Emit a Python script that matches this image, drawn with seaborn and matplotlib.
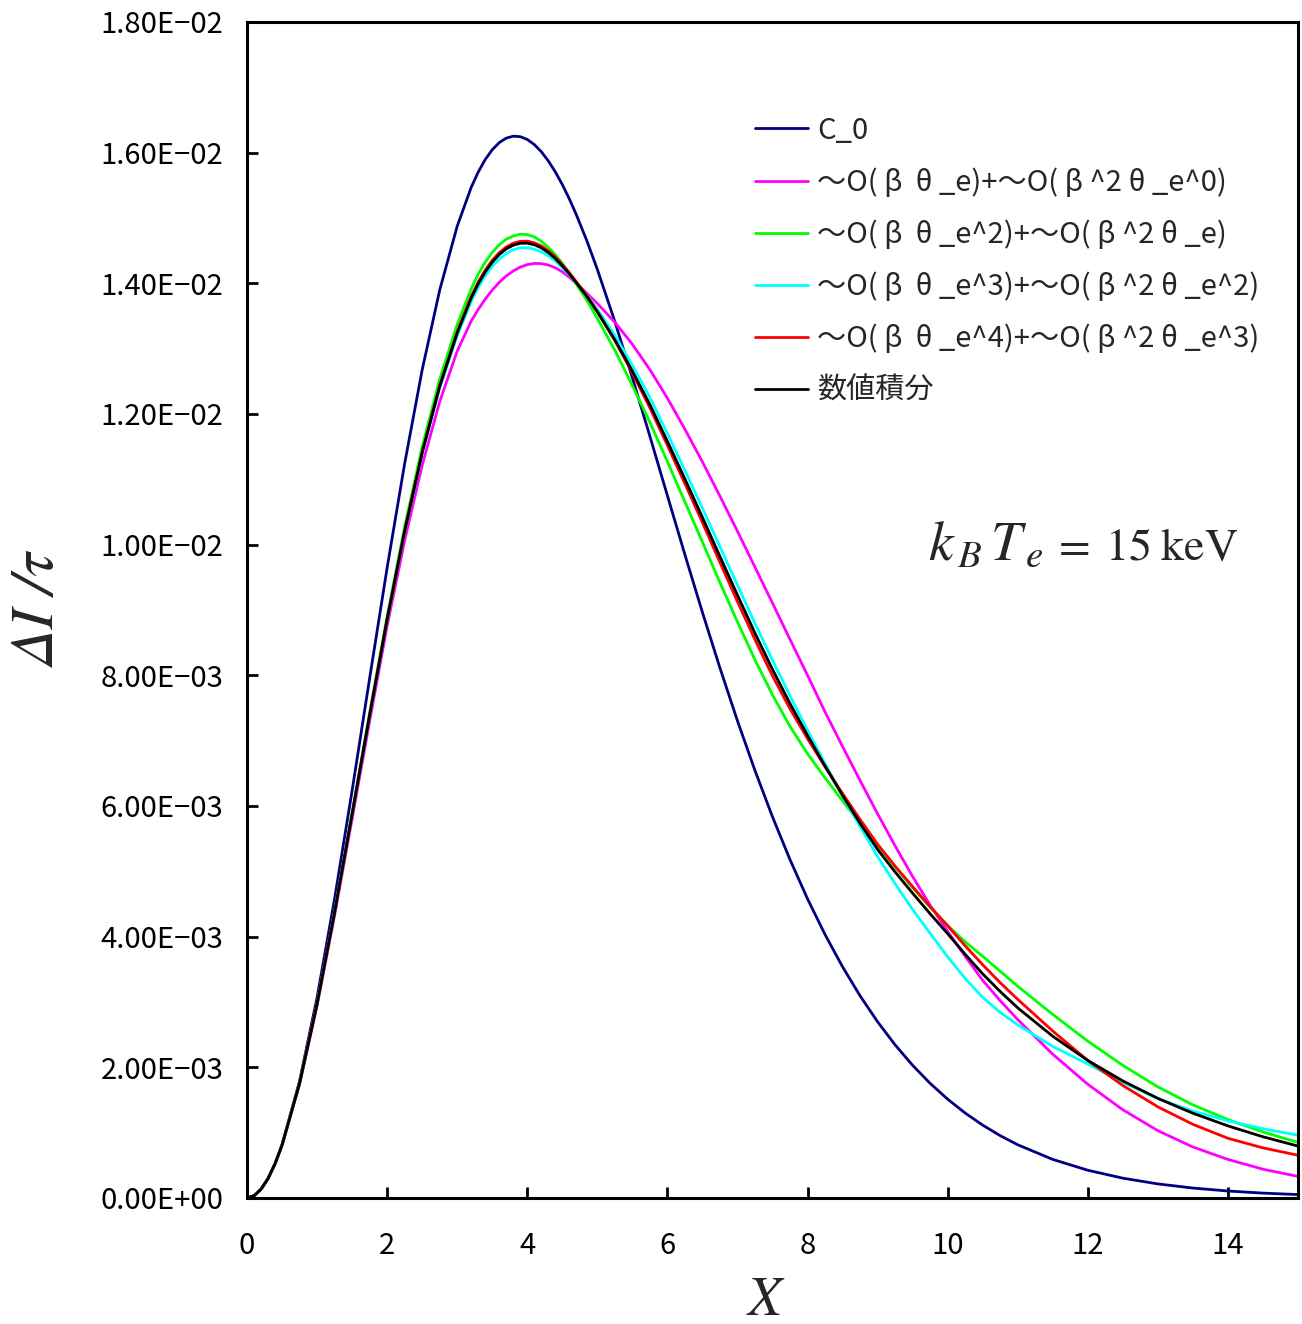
import matplotlib
matplotlib.use("Agg")
import matplotlib.pyplot as plt
import seaborn as sns
from matplotlib.ticker import FixedLocator, FuncFormatter

sns.set_theme(style="white")
plt.rcParams["font.family"] = ["Noto Sans CJK JP", "DejaVu Sans"]
plt.rcParams["mathtext.fontset"] = "stix"

# Frequency variable X = h nu / k T
X = [0, 0.1, 0.2, 0.3, 0.4, 0.5, 0.75, 1.0, 1.25, 1.5, 1.75, 2.0, 2.25, 2.5, 2.75, 3.0,
     3.2, 3.3, 3.4, 3.5, 3.6, 3.7, 3.8, 3.9, 4.0, 4.1, 4.2, 4.3, 4.4, 4.5, 4.6, 4.7,
     4.85, 5.0, 5.25, 5.5, 5.75, 6.0, 6.25, 6.5, 6.75, 7.0, 7.25, 7.5, 7.75, 8.0, 8.25,
     8.5, 8.75, 9.0, 9.25, 9.5, 9.75, 10.0, 10.25, 10.5, 10.75, 11.0, 11.5, 12.0, 12.5,
     13.0, 13.5, 14.0, 14.5, 15.0]

# Delta I / tau for each approximation order
c0 = [0, 0.0000333, 0.0001328, 0.0002975, 0.0005258, 0.0008154, 0.0017881, 0.0030658,
      0.0045768, 0.0062328, 0.0079502, 0.0096447, 0.0112396, 0.0126726, 0.0138946,
      0.0148731, 0.0154685, 0.0157026, 0.0158942, 0.0160442, 0.0161531, 0.0162221,
      0.0162521, 0.0162448, 0.0162017, 0.0161245, 0.0160151, 0.0158750, 0.0157068,
      0.0155123, 0.0152931, 0.0150518, 0.0146531, 0.0142141, 0.0134155, 0.0125548,
      0.0116598, 0.0107509, 0.0098469, 0.0089640, 0.0081131, 0.0073040, 0.0065430,
      0.0058342, 0.0051789, 0.0045788, 0.0040324, 0.0035383, 0.0030941, 0.0026969,
      0.0023436, 0.0020303, 0.0017543, 0.0015120, 0.0012997, 0.0011146, 0.0009537,
      0.0008143, 0.0005900, 0.0004243, 0.0003030, 0.0002150, 0.0001516, 0.0001064,
      0.0000742, 0.0000516]
order1 = [0, 0.0000333, 0.0001323, 0.0002957, 0.0005208, 0.0008045, 0.0017420, 0.0029380,
          0.0043210, 0.0058010, 0.0072960, 0.0087540, 0.0100620, 0.0112120, 0.0121870,
          0.0129620, 0.0134220, 0.0136000, 0.0137580, 0.0138960, 0.0140140, 0.0141120,
          0.0141900, 0.0142480, 0.0142860, 0.0143040, 0.0143020, 0.0142800, 0.0142380,
          0.0141760, 0.0140940, 0.0139990, 0.0138490, 0.0136920, 0.0134040, 0.0130670,
          0.0126790, 0.0122420, 0.0117670, 0.0112670, 0.0107420, 0.0102050, 0.0096550,
          0.0091050, 0.0085500, 0.0080000, 0.0074400, 0.0069100, 0.0063900, 0.0058800,
          0.0053900, 0.0049200, 0.0044800, 0.0040800, 0.0037000, 0.0033300, 0.0030200,
          0.0027300, 0.0022000, 0.0017400, 0.0013500, 0.0010300, 0.0007800, 0.0005900,
          0.0004400, 0.0003300]
order2 = [0, 0.0000333, 0.0001326, 0.0002965, 0.0005225, 0.0008080, 0.0017573, 0.0029777,
          0.0043908, 0.0059013, 0.0074257, 0.0089038, 0.0102756, 0.0114953, 0.0125318,
          0.0133671, 0.0139144, 0.0141412, 0.0143235, 0.0144728, 0.0145897, 0.0146766,
          0.0147235, 0.0147525, 0.0147446, 0.0147111, 0.0146433, 0.0145520, 0.0144394,
          0.0143068, 0.0141557, 0.0139883, 0.0137404, 0.0134623, 0.0129745, 0.0124370,
          0.0118738, 0.0112713, 0.0106548, 0.0100383, 0.0094191, 0.0088185, 0.0082359,
          0.0077010, 0.0072172, 0.0067996, 0.0064300, 0.0060800, 0.0057350, 0.0053950,
          0.0050650, 0.0047500, 0.0044500, 0.0041700, 0.0039200, 0.0037000, 0.0034700,
          0.0032400, 0.0028100, 0.0024000, 0.0020300, 0.0017000, 0.0014250, 0.0012000,
          0.0010100, 0.0008500]
order3 = [0, 0.0000333, 0.0001325, 0.0002963, 0.0005221, 0.0008072, 0.0017523, 0.0029677,
          0.0043708, 0.0058713, 0.0073857, 0.0088538, 0.0101956, 0.0113853, 0.0123918,
          0.0131971, 0.0137244, 0.0139312, 0.0141135, 0.0142628, 0.0143697, 0.0144566,
          0.0145135, 0.0145425, 0.0145446, 0.0145211, 0.0144833, 0.0144220, 0.0143394,
          0.0142368, 0.0141357, 0.0140083, 0.0138204, 0.0136023, 0.0132045, 0.0127470,
          0.0122538, 0.0117013, 0.0111348, 0.0105583, 0.0099691, 0.0093785, 0.0087959,
          0.0082310, 0.0076872, 0.0071596, 0.0066500, 0.0061607, 0.0056847, 0.0052242,
          0.0048100, 0.0044150, 0.0040500, 0.0036900, 0.0033600, 0.0030700, 0.0028400,
          0.0026500, 0.0023200, 0.0020500, 0.0017700, 0.0015200, 0.0013300, 0.0011800,
          0.0010600, 0.0009600]
order4 = [0, 0.0000333, 0.0001325, 0.0002964, 0.0005223, 0.0008075, 0.0017533, 0.0029697,
          0.0043738, 0.0058753, 0.0073907, 0.0088598, 0.0102126, 0.0114133, 0.0124328,
          0.0132571, 0.0138004, 0.0140192, 0.0142015, 0.0143528, 0.0144697, 0.0145566,
          0.0146135, 0.0146425, 0.0146446, 0.0146211, 0.0145733, 0.0145000, 0.0144054,
          0.0142868, 0.0141637, 0.0140243, 0.0138124, 0.0135723, 0.0131245, 0.0126270,
          0.0120938, 0.0115213, 0.0109348, 0.0103383, 0.0097291, 0.0091285, 0.0085459,
          0.0079910, 0.0074872, 0.0070296, 0.0066000, 0.0061907, 0.0057947, 0.0054142,
          0.0050800, 0.0047650, 0.0044600, 0.0041650, 0.0038600, 0.0035700, 0.0032950,
          0.0030400, 0.0025550, 0.0021050, 0.0017214, 0.0013947, 0.0011268, 0.0009134,
          0.0007664, 0.0006542]
numerical = [0, 0.0000333, 0.0001325, 0.0002963, 0.0005221, 0.0008072, 0.0017523, 0.0029677,
             0.0043708, 0.0058713, 0.0073857, 0.0088538, 0.0102056, 0.0114053, 0.0124218,
             0.0132371, 0.0137744, 0.0139912, 0.0141735, 0.0143228, 0.0144397, 0.0145266,
             0.0145835, 0.0146125, 0.0146146, 0.0145911, 0.0145433, 0.0144720, 0.0143794,
             0.0142668, 0.0141457, 0.0140083, 0.0138004, 0.0135623, 0.0131345, 0.0126570,
             0.0121438, 0.0115813, 0.0110048, 0.0104183, 0.0098191, 0.0092285, 0.0086459,
             0.0080910, 0.0075672, 0.0070796, 0.0066100, 0.0061607, 0.0057347, 0.0053342,
             0.0049900, 0.0046650, 0.0043500, 0.0040450, 0.0037300, 0.0034300, 0.0031600,
             0.0029100, 0.0024750, 0.0021050, 0.0017914, 0.0015247, 0.0012968, 0.0011034,
             0.0009364, 0.0007942]

labels = ["C_0",
          "～O( β  θ _e)+～O( β ^2 θ _e^0)",
          "～O( β  θ _e^2)+～O( β ^2 θ _e)",
          "～O( β  θ _e^3)+～O( β ^2 θ _e^2)",
          "～O( β  θ _e^4)+～O( β ^2 θ _e^3)",
          "数値積分"]
colors = ["#000080", "#FF00FF", "#00FF00", "#00FFFF", "#FF0000", "#000000"]
series = [c0, order1, order2, order3, order4, numerical]

x_ticks = [0, 2, 4, 6, 8, 10, 12, 14]
y_ticks = [0, 0.002, 0.004, 0.006, 0.008, 0.010, 0.012, 0.014, 0.016, 0.018]

fig = plt.figure(figsize=(13.02, 13.24), dpi=100)
ax = fig.add_axes([0.1897, 0.0952, 0.8072, 0.8882])

for vals, col, lab in zip(series, colors, labels):
    sns.lineplot(x=X, y=vals, color=col, label=lab, linewidth=2.0, ax=ax, sort=False,
                 solid_joinstyle="round", solid_capstyle="round")

ax.set_xlim(0, 15)
ax.set_ylim(0, 0.018)
ax.xaxis.set_major_locator(FixedLocator(x_ticks))
ax.yaxis.set_major_locator(FixedLocator(y_ticks))
ax.yaxis.set_major_formatter(FuncFormatter(lambda v, p: f"{v:.2E}".replace("-", "−")))
ax.xaxis.set_major_formatter(FuncFormatter(lambda v, p: f"{v:g}"))
ax.tick_params(axis="both", direction="in", length=8, width=2.0, labelsize=21,
               colors="black", top=False, right=False, left=True, bottom=True)
ax.tick_params(axis="x", pad=24)
ax.tick_params(axis="y", pad=17)
for sp in ax.spines.values():
    sp.set_color("black")
    sp.set_linewidth(2.2)

ax.set_xlabel("X", fontsize=40, family="STIXGeneral", style="italic")
ax.xaxis.set_label_coords(0.4928, -0.066)
ax.set_ylabel("ΔI /τ", fontsize=44, family="STIXGeneral", style="italic")
ax.yaxis.set_label_coords(-0.170, 0.50)

# Electron temperature annotation
ax.text(0.6480, 0.5425, r"$k_{\,B}\,T_{\,e}$", transform=ax.transAxes,
        fontsize=40, ha="left", va="baseline")
ax.text(0.7659, 0.5425, r"$=\;15\;\mathrm{keV}$", transform=ax.transAxes,
        fontsize=33, ha="left", va="baseline")

leg = ax.legend(loc="upper left", bbox_to_anchor=(0.4834, 0.9203), frameon=False,
                fontsize=21, handlelength=1.8, handletextpad=0.34, labelspacing=0.755,
                borderpad=0, borderaxespad=0)
for h in leg.get_lines():
    h.set_linewidth(2.0)

fig.savefig("out.png", dpi=100, facecolor="white")
